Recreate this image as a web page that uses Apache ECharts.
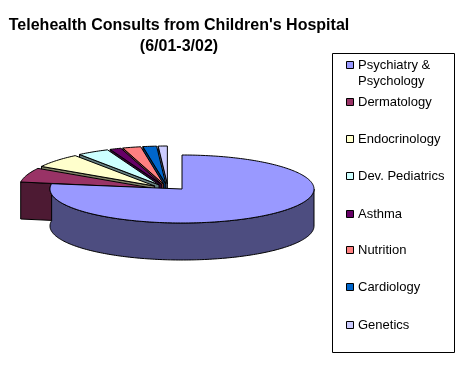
<!DOCTYPE html>
<html>
<head>
<meta charset="utf-8">
<script src="https://cdn.jsdelivr.net/npm/echarts@6/dist/echarts.min.js"></script>
<style>
  html, body { margin: 0; padding: 0; background: #fff; }
  #chart { width: 466px; height: 368px; }
</style>
</head>
<body>
<div id="chart"></div>
<script>
const categories = ['Psychiatry &\nPsychology', 'Dermatology', 'Endocrinology', 'Dev. Pediatrics', 'Asthma', 'Nutrition', 'Cardiology', 'Genetics'];
const consults = [279, 22, 22, 14, 5, 8, 6, 4];
const topColors = ['#9999ff', '#993366', '#ffffcc', '#ccffff', '#660066', '#ff8080', '#0066cc', '#ccccff'];
const wallColors = ['#4d4d80', '#4d1a33', '#808066', '#668080', '#330033', '#804040', '#003366', '#666680'];
const legendY = [65, 102, 139, 176, 214, 250, 287, 325];

const total = consults.reduce((a, b) => a + b, 0);
const depth = 37;
const font = '"Liberation Sans", Arial, sans-serif';

// first slice sits on its own ellipse, the others are pulled out of the pie
const mainPie = { cx: 182, cy: 189, rx: 132, ry: 34 };
const restPie = { cx: 168, cy: 190, rx: 132, ry: 38, ex: 18, ey: 6 };

function sliceAngles(i) {
  let before = 0;
  for (let k = 0; k < i; k++) before += consults[k];
  const start = before / total * Math.PI * 2;
  return [start, start + consults[i] / total * Math.PI * 2];
}

function arcPoints(pie, x, y, a0, a1, dy) {
  const pts = [];
  const n = Math.max(2, Math.ceil((a1 - a0) / 0.02));
  for (let k = 0; k <= n; k++) {
    const a = a0 + (a1 - a0) * k / n;
    pts.push([x + pie.rx * Math.sin(a), y - pie.ry * Math.cos(a) + dy]);
  }
  return pts;
}

function renderSlice(params, api) {
  const i = api.value(0);
  const [a0, a1] = sliceAngles(i);
  const mid = (a0 + a1) / 2;
  const pie = i === 0 ? mainPie : restPie;
  const x = i === 0 ? pie.cx : pie.cx + pie.ex * Math.sin(mid);
  const y = i === 0 ? pie.cy : pie.cy - pie.ey * Math.cos(mid);
  const line = { stroke: '#000', lineWidth: 1 };
  const children = [];

  // near wall
  if (i === 0) {
    const front = arcPoints(pie, x, y, Math.PI / 2, a1, 0);
    const back = arcPoints(pie, x, y, Math.PI / 2, a1, depth).reverse();
    children.push({
      type: 'polygon',
      shape: { points: front.concat(back) },
      style: { fill: wallColors[i], ...line },
    });
  } else {
    const edge = arcPoints(pie, x, y, a0, a0, 0)[0];
    children.push({
      type: 'polygon',
      shape: { points: [[x, y], edge, [edge[0], edge[1] + depth], [x, y + depth]] },
      style: { fill: wallColors[i], ...line },
    });
  }
  children.push({
    type: 'polygon',
    shape: { points: [[x, y]].concat(arcPoints(pie, x, y, a0, a1, 0)) },
    style: { fill: topColors[i], ...line },
  });
  return { type: 'group', children };
}

const legendItems = [];
categories.forEach((name, i) => {
  legendItems.push({
    type: 'rect',
    shape: { x: 346.5, y: legendY[i] - 3.5, width: 7, height: 7 },
    style: { fill: topColors[i], stroke: '#000', lineWidth: 1 },
  });
  legendItems.push({
    type: 'text',
    x: 358,
    y: legendY[i] - 8,
    style: { text: name, font: '13px ' + font, fill: '#000', lineHeight: 16, textVerticalAlign: 'top' },
  });
});

// painted back to front: genetics first, main slice last
const drawOrder = consults.map((v, i) => [i, v]).reverse();

const myChart = echarts.init(document.getElementById('chart'), null, { renderer: 'canvas' });
myChart.setOption({
  animation: false,
  backgroundColor: '#fff',
  title: {
    text: "Telehealth Consults from Children's Hospital\n(6/01-3/02)",
    left: 174,
    top: 10,
    textAlign: 'center',
    textStyle: { fontFamily: font, fontSize: 16, fontWeight: 'bold', color: '#000', lineHeight: 21 },
  },
  graphic: [
    {
      type: 'rect',
      shape: { x: 332.5, y: 53.5, width: 122, height: 299 },
      style: { fill: '#fff', stroke: '#000', lineWidth: 1 },
    },
  ].concat(legendItems),
  series: [
    {
      type: 'custom',
      coordinateSystem: 'none',
      renderItem: renderSlice,
      data: drawOrder,
      silent: true,
    },
  ],
});
</script>
</body>
</html>
